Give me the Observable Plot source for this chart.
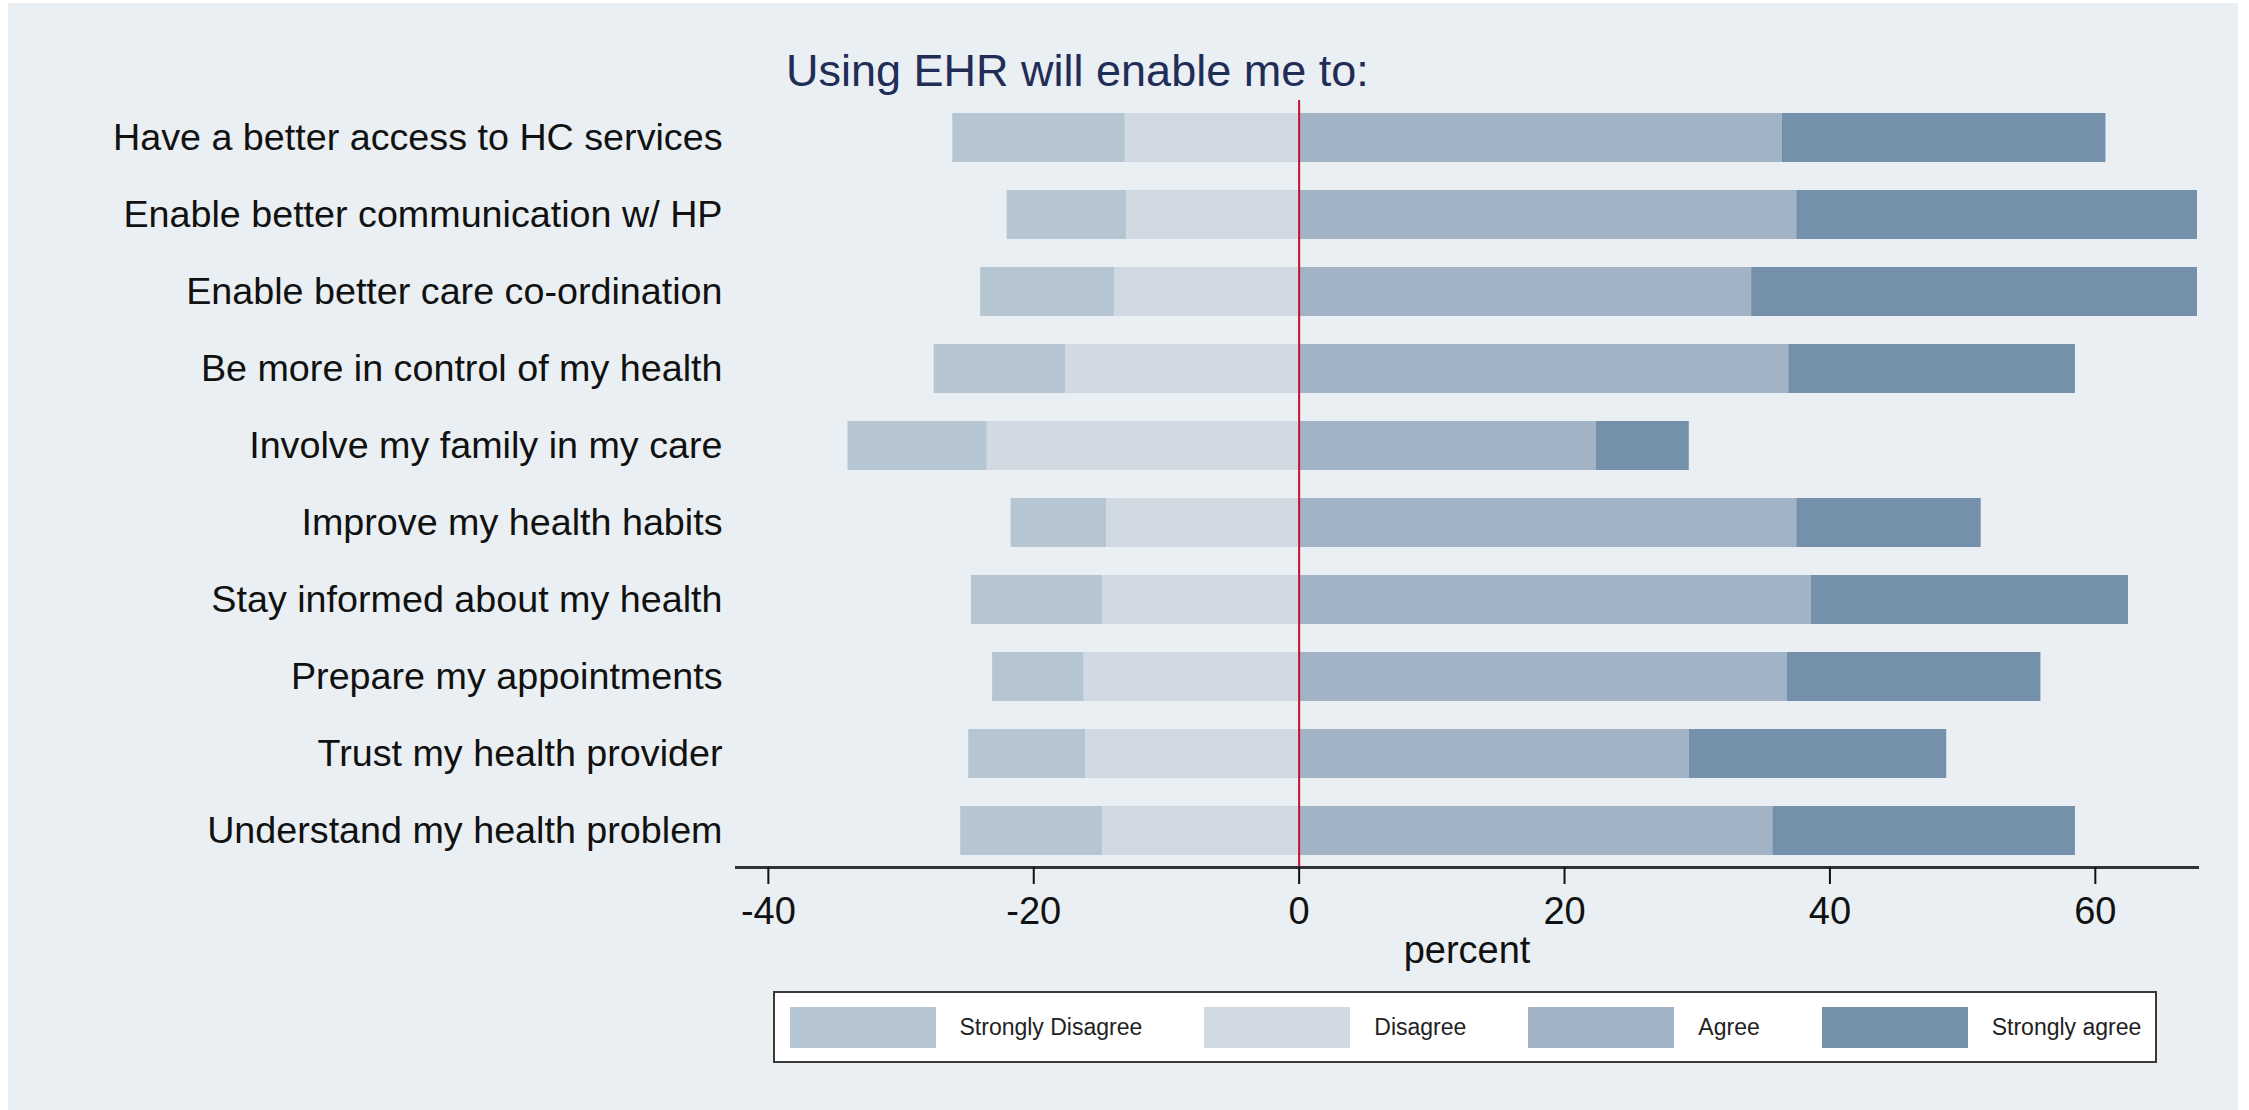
<!DOCTYPE html>
<html><head><meta charset="utf-8">
<script src="https://cdn.jsdelivr.net/npm/d3@7"></script>
<script src="https://cdn.jsdelivr.net/npm/@observablehq/plot@0.6"></script>
<style>
html,body{margin:0;padding:0;background:#fff;}
#page{position:relative;width:2249px;height:1110px;overflow:hidden;font-family:"Liberation Sans",Arial,sans-serif;}
#bg{position:absolute;left:8px;top:3px;right:11px;bottom:0;background:#e9eff2;}
#chart{position:absolute;left:0;top:0;}
#title{position:absolute;left:786px;top:48px;font-size:45px;line-height:45px;color:#1f2d57;white-space:nowrap;}
#legend{position:absolute;left:773px;top:991px;width:1384px;height:72px;box-sizing:border-box;border:2.5px solid #3a3a3a;background:#fff;display:flex;align-items:center;padding-left:14.5px;}
.item{display:flex;align-items:center;margin-right:62px;}
.sw{width:146px;height:41px;}
.lab{margin-left:24px;font-size:23px;color:#222;white-space:nowrap;}
</style></head>
<body>
<div id="page">
  <div id="bg"></div>
  <div id="chart"></div>
  <div id="title">Using EHR will enable me to:</div>
  <div id="legend"></div>
</div>
<script>
const items = [
  "Have a better access to HC services",
  "Enable better communication w/ HP",
  "Enable better care co-ordination",
  "Be more in control of my health",
  "Involve my family in my care",
  "Improve my health habits",
  "Stay informed about my health",
  "Prepare my appointments",
  "Trust my health provider",
  "Understand my health problem"
];
const stronglyDisagree = [13.0, 9.0, 10.1, 9.9, 10.5, 7.2, 9.9, 6.9, 8.8, 10.7];
const disagree         = [13.1, 13.0, 13.9, 17.6, 23.5, 14.5, 14.8, 16.2, 16.1, 14.8];
const agree            = [36.4, 37.5, 34.1, 36.9, 22.4, 37.5, 38.6, 36.8, 29.4, 35.7];
const stronglyAgree    = [24.4, 30.3, 33.7, 21.6, 7.0, 13.9, 23.9, 19.1, 19.4, 22.8];
const categories = ["Strongly Disagree", "Disagree", "Agree", "Strongly agree"];
const colors = ["#b5c5d1", "#d1dae2", "#a2b3c5", "#7490ab"];
const xTicks = [-40, -20, 0, 20, 40, 60];

const data = items.flatMap((item, i) => [
  {item, cat: categories[0], x1: -(stronglyDisagree[i] + disagree[i]), x2: -disagree[i]},
  {item, cat: categories[1], x1: -disagree[i], x2: 0},
  {item, cat: categories[2], x1: 0, x2: agree[i]},
  {item, cat: categories[3], x1: agree[i], x2: agree[i] + stronglyAgree[i]}
]);

const chart = Plot.plot({
  width: 2249, height: 980,
  marginTop: 100, marginBottom: 113, marginLeft: 736, marginRight: 52,
  style: {background: "transparent", fontFamily: "'Liberation Sans', Arial, sans-serif", color: "#111"},
  x: {domain: [-42.4, 67.7]},
  y: {domain: items, paddingInner: 0.37, paddingOuter: 0.12},
  color: {domain: categories, range: colors},
  marks: [
    Plot.barX(data, {x1: "x1", x2: "x2", y: "item", fill: "cat", clip: true}),
    Plot.ruleX([0], {stroke: "#c8102e", strokeWidth: 2}),
    Plot.frame({anchor: "bottom", stroke: "#333", strokeWidth: 3}),
    Plot.axisX({ticks: xTicks, tickFormat: d => String(d), tickSize: 17, tickPadding: 13, fontSize: 38, label: null, strokeWidth: 2}),
    Plot.axisY({tickSize: 0, tickPadding: 14, fontSize: 37.7, label: null}),
    Plot.text(["percent"], {text: d => d, frameAnchor: "bottom", dy: 95, fontSize: 38})
  ]
});
document.getElementById("chart").appendChild(chart);

const legend = d3.select("#legend");
categories.forEach((c, i) => {
  const it = legend.append("div").attr("class", "item");
  it.append("div").attr("class", "sw").style("background", colors[i]);
  it.append("div").attr("class", "lab").text(c);
});
</script>
</body></html>
